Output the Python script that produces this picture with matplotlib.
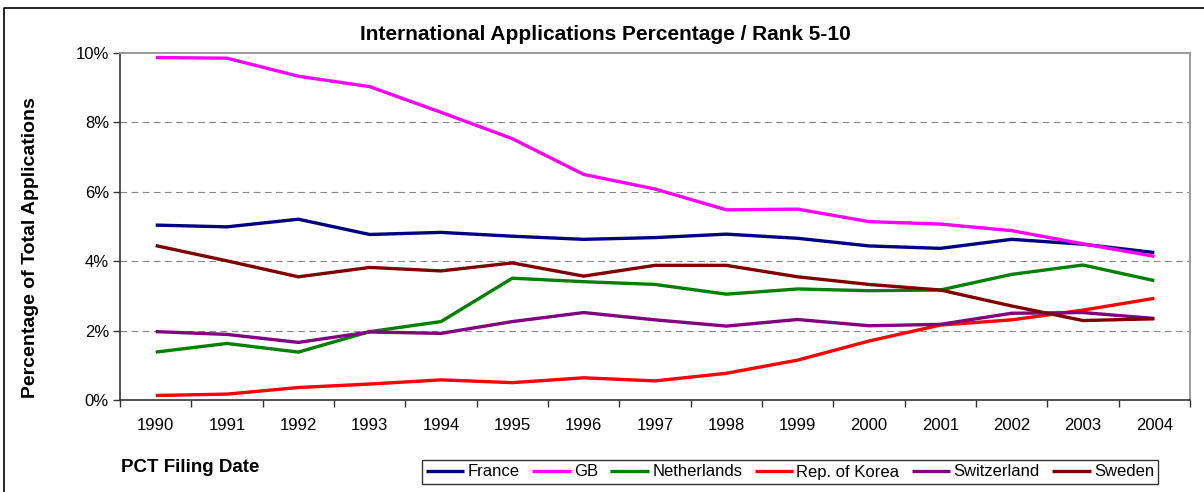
import matplotlib
matplotlib.use('Agg')
import matplotlib.pyplot as plt
from matplotlib.lines import Line2D
import numpy

plt.rcParams['font.family'] = ['Liberation Sans', 'DejaVu Sans']

# ======================= DATA =======================
YEARS = ['1990', '1991', '1992', '1993', '1994', '1995', '1996', '1997',
         '1998', '1999', '2000', '2001', '2002', '2003', '2004']

FRANCE = [5.04, 4.99, 5.21, 4.77, 4.83, 4.72, 4.63, 4.68, 4.78, 4.66, 4.44, 4.37, 4.63, 4.49, 4.25]
GB = [9.87, 9.85, 9.33, 9.03, 8.29, 7.53, 6.50, 6.08, 5.48, 5.50, 5.14, 5.07, 4.88, 4.50, 4.14]
NETHERLANDS = [1.38, 1.63, 1.38, 1.97, 2.26, 3.51, 3.41, 3.33, 3.05, 3.20, 3.15, 3.17, 3.62, 3.89, 3.44]
KOREA = [0.13, 0.17, 0.36, 0.46, 0.58, 0.50, 0.64, 0.55, 0.77, 1.15, 1.70, 2.16, 2.31, 2.59, 2.93]
SWITZERLAND = [1.97, 1.89, 1.66, 1.96, 1.92, 2.26, 2.52, 2.31, 2.13, 2.32, 2.14, 2.18, 2.50, 2.52, 2.35]
SWEDEN = [4.45, 4.01, 3.55, 3.82, 3.72, 3.95, 3.57, 3.88, 3.88, 3.55, 3.33, 3.17, 2.71, 2.29, 2.34]

SERIES = [
    ('France', FRANCE, '#000080'),
    ('GB', GB, '#FF00FF'),
    ('Netherlands', NETHERLANDS, '#008000'),
    ('Rep. of Korea', KOREA, '#FF0000'),
    ('Switzerland', SWITZERLAND, '#800080'),
    ('Sweden', SWEDEN, '#800000'),
]
# ====================================================

fig = plt.figure(figsize=(12.04, 4.92), dpi=100)
ax = fig.add_axes([120 / 1204, 1 - 400 / 492, 1070 / 1204, 347 / 492])

# outer chart border (only top and left edges are visible in the image)
border_y = 1 - 7.5 / 492
border_x = 3.5 / 1204
fig.lines.append(Line2D([border_x, border_x, 1.0], [0, border_y, border_y],
                        transform=fig.transFigure, color='black', linewidth=1.2))

x = numpy.arange(len(YEARS))
for name, values, color in SERIES:
    ax.plot(x, values, color=color, linewidth=2.4, label=name, solid_capstyle='butt', zorder=3)

ax.set_xlim(-0.5, len(YEARS) - 0.5)
ax.set_ylim(0, 10)

ax.set_yticks(numpy.arange(0, 11, 2))
ax.set_yticklabels([f'{v}%' for v in range(0, 11, 2)], fontsize=12)
ax.set_xticks(x)
ax.set_xticklabels(YEARS, fontsize=12)
ax.set_xticks(numpy.arange(-0.5, len(YEARS), 1), minor=True)
ax.tick_params(axis='x', which='major', length=0, pad=13)
ax.tick_params(axis='x', which='minor', length=5, width=1, direction='out', color='#333333')
ax.tick_params(axis='y', length=5, width=1, direction='out', color='#333333', pad=3)

for level in [2, 4, 6, 8]:
    ax.axhline(level, color='#888888', linestyle=(0, (6, 4)), linewidth=0.8, zorder=1)

for side in ['top', 'right']:
    ax.spines[side].set_color('#999999')
    ax.spines[side].set_linewidth(1.4)
for side in ['left', 'bottom']:
    ax.spines[side].set_color('#333333')
    ax.spines[side].set_linewidth(1.2)

fig.text(605 / 1204, 1 - 34 / 492, 'International Applications Percentage / Rank 5-10',
         ha='center', va='center', fontsize=15, fontweight='bold')
fig.text(31 / 1204, 1 - 248 / 492, 'Percentage of Total Applications', rotation=90,
         ha='center', va='center', fontsize=14, fontweight='bold')
fig.text(121 / 1204, 1 - 468 / 492, 'PCT Filing Date', ha='left', va='center',
         fontsize=13.5, fontweight='bold')

leg = fig.legend(loc='center', bbox_to_anchor=(790 / 1204, 1 - 472 / 492), ncol=6,
                 fontsize=12, frameon=True, fancybox=False, handlelength=2.3,
                 handletextpad=0.2, columnspacing=0.75, borderpad=0.25, borderaxespad=0)
leg.get_frame().set_edgecolor('black')
leg.get_frame().set_linewidth(1.0)

fig.savefig('out.png', dpi=100)
